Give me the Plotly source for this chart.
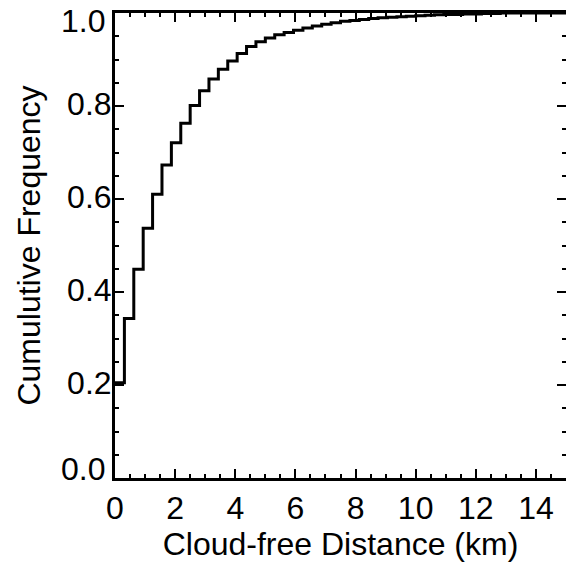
import plotly.graph_objects as go

bin_width = 0.3125
cum_freq = [
    0.205, 0.343, 0.449, 0.537, 0.610, 0.673, 0.721, 0.763,
    0.801, 0.833, 0.858, 0.879, 0.897, 0.913, 0.928, 0.938,
    0.946, 0.953, 0.958, 0.963, 0.968, 0.972, 0.976, 0.979,
    0.982, 0.984, 0.986, 0.988, 0.990, 0.991, 0.992, 0.993,
    0.994, 0.995, 0.996, 0.997, 0.997, 0.998, 0.998, 0.999,
    0.999, 1.000, 1.000, 1.000, 1.000, 1.000, 1.000, 1.000,
]
x_ticks = [0, 2, 4, 6, 8, 10, 12, 14]
y_ticks = [0.0, 0.2, 0.4, 0.6, 0.8, 1.0]
y_tick_text = ["0.0", "0.2", "0.4", "0.6", "0.8", "1.0"]

xs = [i * bin_width for i in range(len(cum_freq))] + [len(cum_freq) * bin_width]
ys = cum_freq + [cum_freq[-1]]

fig = go.Figure()
fig.add_trace(go.Scatter(x=xs, y=ys, mode="lines", line=dict(shape="hv", color="black", width=3),
                         showlegend=False, hoverinfo="skip"))

# end labels are nudged inside the axis range (as in the original), the rest are axis tick labels
inner_text = [""] + y_tick_text[1:-1] + [""]
end_labels = [(y_ticks[0], y_tick_text[0], 9), (y_ticks[-1], y_tick_text[-1], -8)]

font = dict(family="Liberation Sans, Arial, sans-serif", size=32, color="black")
fig.update_layout(
    width=566, height=563,
    margin=dict(l=115, r=0, t=13, b=85, autoexpand=False),
    paper_bgcolor="white", plot_bgcolor="white",
    font=font,
    xaxis=dict(range=[0, 15], tickvals=x_ticks, ticks="inside", ticklen=9, tickwidth=2,
               tickcolor="black", showline=True, linecolor="black", linewidth=3, mirror="ticks",
               showgrid=False, zeroline=False, ticklabelstandoff=0, ticklabeloverflow="allow",
               automargin=False,
               minor=dict(dtick=0.5, ticks="inside", ticklen=4, tickwidth=2, tickcolor="black"),
               title=dict(text="Cloud-free Distance (km)", standoff=2, font=dict(size=32))),
    yaxis=dict(range=[0, 1], tickvals=y_ticks, ticktext=inner_text, ticks="inside", ticklen=9,
               tickwidth=2, tickcolor="black", showline=True, linecolor="black", linewidth=3,
               mirror="ticks", showgrid=False, zeroline=False, ticklabelstandoff=-6,
               ticklabeloverflow="allow", ticklabelshift=-2, automargin=False,
               minor=dict(dtick=0.05, ticks="inside", ticklen=4, tickwidth=2, tickcolor="black"),
               title=dict(text="Cumulutive Frequency", standoff=17, font=dict(size=32))),
)
for yv, txt, shift in end_labels:
    fig.add_annotation(x=0, xref="paper", y=yv, yref="y", text=txt, showarrow=False,
                       xanchor="right", yanchor="middle", xshift=-8, yshift=shift,
                       font=font)
fig.write_html("out.html")
